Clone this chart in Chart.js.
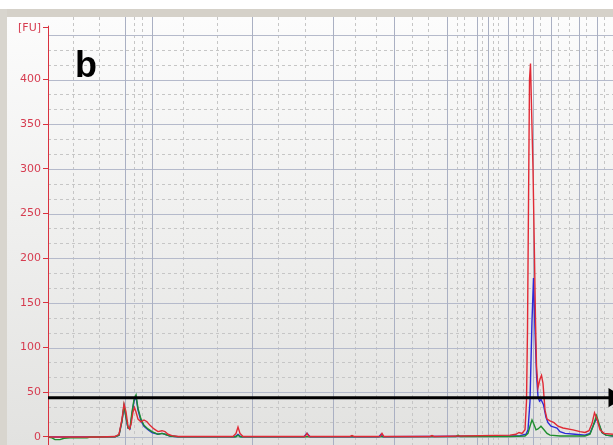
<!DOCTYPE html>
<html>
<head>
<meta charset="utf-8">
<script src="https://cdn.jsdelivr.net/npm/chart.js@4.4.1/dist/chart.umd.min.js"></script>
<style>
  html, body { margin: 0; padding: 0; background: #ffffff; }
  canvas { display: block; }
</style>
</head>
<body>
<canvas id="trace" width="613" height="445"></canvas>
<script>
// migration time (s) and fluorescence (FU) for each sample
const redTime = [17.0, 18.2, 22.2, 23.7, 24.1, 24.4, 24.6, 24.8, 25.0, 25.15, 25.3, 25.5, 25.65, 25.8, 26.0, 26.3, 26.6, 26.9, 27.2, 27.6, 28.0, 28.4, 28.7, 29.0, 29.4, 30.0,
  35.5, 35.8, 36.0, 36.2, 36.5, 42.7, 42.9, 43.1, 47.2, 47.4, 47.6, 50.2, 50.4, 50.6, 55.2, 55.4, 55.6,
  63.2, 63.8, 64.1, 64.4, 64.7, 64.85, 64.95, 65.05, 65.15, 65.25, 65.35, 65.5, 65.65, 65.75, 65.85, 66.0, 66.2, 66.35, 66.5, 66.7, 66.9, 67.2, 67.6, 68.0, 68.5, 69.5, 70.2, 70.7, 71.1, 71.4, 71.65, 71.9, 72.2, 72.6, 73.5];
const redFU = [0, 0, 0, 0.5, 3, 20, 37, 28, 12, 9, 14, 28, 33, 28, 20, 17, 19, 17, 13, 9, 6, 7, 6, 3, 1.5, 0.5,
  0.5, 4, 11, 4, 0.5, 0.5, 4, 0.5, 0.5, 1.5, 0.5, 0.5, 4, 0.5, 0.5, 1.5, 0.5,
  2, 3, 5, 4, 8, 40, 120, 260, 400, 418, 370, 300, 200, 130, 80, 55, 65, 69, 60, 30, 20, 18, 16, 12, 10, 8, 6, 5, 7, 15, 27, 20, 8, 4, 3];

const blueTime = [17.0, 23.7, 24.1, 24.4, 24.6, 24.8, 25.0, 25.2, 25.4, 25.6, 25.8, 26.0, 26.3, 26.6, 27.0, 27.4, 28.0, 28.4, 28.7, 29.2, 30.0,
  35.7, 36.0, 36.3, 42.6, 42.9, 43.2, 50.1, 50.3, 50.5,
  63.2, 64.2, 64.8, 65.0, 65.2, 65.4, 65.55, 65.7, 65.85, 66.0, 66.15, 66.3, 66.55, 66.8, 67.0, 67.3, 67.6, 67.9, 68.2, 68.7, 69.7, 70.7, 71.2, 71.5, 71.85, 72.1, 72.4, 72.8, 73.5];
const blueFU = [0, 0.3, 2, 18, 34, 22, 10, 9, 25, 40, 45, 30, 18, 12, 8, 5, 3, 4, 3, 1, 0.3,
  0.3, 3, 0.3, 0.3, 4, 0.3, 0.3, 3, 0.3,
  1, 1.5, 3, 8, 40, 130, 178, 120, 70, 45, 40, 42, 36, 22, 16, 12, 11, 10, 6, 4, 3, 2, 4, 12, 21, 14, 5, 2, 1];

const greenTime = [17.0, 17.4, 17.7, 18.2, 18.6, 19.2, 20.9, 21.2, 23.7, 24.1, 24.4, 24.6, 24.8, 25.0, 25.2, 25.4, 25.6, 25.8, 26.0, 26.3, 26.6, 27.0, 27.4, 28.0, 28.4, 28.7, 29.2, 30.0,
  35.8, 36.0, 36.2, 57.8, 58.0, 58.2,
  63.2, 64.7, 65.0, 65.2, 65.4, 65.6, 65.8, 66.0, 66.3, 66.6, 66.9, 67.2, 68.2, 70.7, 71.2, 71.5, 71.85, 72.1, 72.4, 72.8, 73.5];
const greenFU = [0, -1, -3, -3, -1.5, -1, -1, 0, 0.3, 2, 18, 35, 22, 10, 10, 28, 42, 47, 32, 20, 13, 9, 6, 3, 4, 3, 1, 0.3,
  0.3, 2, 0.3, 0.5, 2, 0.5,
  0.5, 1, 4, 12, 19, 14, 8, 9, 12, 8, 4, 2, 1, 1, 3, 12, 24, 15, 5, 2, 1];

const thresholdFU = 44;
const yTickValues = [0, 50, 100, 150, 200, 250, 300, 350, 400];
const unitTick = 458;
const unitLabel = '[FU]';

// size-standard grid positions (s)
const majorGridTimes = [24.7, 27.4, 37.4, 45.5, 51.6, 56.9, 59.9, 61.0, 63.0, 65.5, 67.3, 70.1, 71.9];
const minorGridTimes = [19.5, 22.1, 25.6, 26.4, 30.5, 33.9, 40.0, 42.7, 47.7, 49.8, 53.4, 55.0, 57.9, 58.6,
  60.4, 61.5, 62.0, 63.8, 64.5, 66.2, 68.0, 69.1, 70.8, 72.6];

const toPoints = (xs, ys) => xs.map((x, i) => ({ x: x, y: ys[i] }));

const axisRed = '#d9323f';

const panel = {
  id: 'panel',
  beforeDraw(chart) {
    const { ctx, width, height } = chart;
    ctx.save();
    ctx.fillStyle = '#ffffff';
    ctx.fillRect(0, 0, width, height);
    ctx.fillStyle = '#d5d1c9';
    ctx.fillRect(0, 9, width, 8);
    ctx.fillStyle = '#d8d5ce';
    ctx.fillRect(0, 9, 7, height - 9);
    const g = ctx.createLinearGradient(0, 17, 0, height);
    g.addColorStop(0, '#fcfcfc');
    g.addColorStop(1, '#e2e2e0');
    ctx.fillStyle = g;
    ctx.fillRect(7, 17, width - 7, height - 17);
    ctx.restore();
  },
  beforeDatasetsDraw(chart) {
    const { ctx, chartArea: a, scales } = chart;
    const xs = scales.x, ys = scales.y;
    ctx.save();
    ctx.lineWidth = 1;
    // dashed sub-grid
    ctx.setLineDash([3, 3]);
    ctx.strokeStyle = '#c6c6c6';
    for (let v = 0; v <= 450; v += 50 / 3) {
      if (Math.abs(v / 50 - Math.round(v / 50)) < 0.01) continue;
      const py = Math.round(ys.getPixelForValue(v)) + 0.5;
      ctx.beginPath(); ctx.moveTo(a.left, py); ctx.lineTo(a.right, py); ctx.stroke();
    }
    minorGridTimes.forEach((t) => {
      const px = Math.round(xs.getPixelForValue(t)) + 0.5;
      ctx.beginPath(); ctx.moveTo(px, a.top); ctx.lineTo(px, a.bottom); ctx.stroke();
    });
    // solid grid
    ctx.setLineDash([]);
    ctx.strokeStyle = '#b5bacb';
    for (let v = 0; v <= 450; v += 50) {
      const py = Math.round(ys.getPixelForValue(v)) + 0.5;
      ctx.beginPath(); ctx.moveTo(a.left, py); ctx.lineTo(a.right, py); ctx.stroke();
    }
    ctx.strokeStyle = '#aab0c3';
    majorGridTimes.forEach((t) => {
      const px = Math.round(xs.getPixelForValue(t)) + 0.5;
      ctx.beginPath(); ctx.moveTo(px, a.top); ctx.lineTo(px, a.bottom); ctx.stroke();
    });
    // y axis line
    ctx.strokeStyle = axisRed;
    ctx.beginPath();
    ctx.moveTo(a.left + 0.5, ys.getPixelForValue(unitTick) - 2);
    ctx.lineTo(a.left + 0.5, a.bottom);
    ctx.stroke();
    ctx.restore();
  },
  afterDatasetsDraw(chart) {
    const { ctx } = chart;
    ctx.save();
    ctx.fillStyle = '#000000';
    ctx.font = 'bold 36px "Liberation Sans", Arial, sans-serif';
    ctx.textBaseline = 'alphabetic';
    ctx.fillText('b', 75, 77);
    ctx.restore();
  }
};

new Chart(document.getElementById('trace'), {
  type: 'line',
  data: {
    datasets: [
      {
        // threshold line, arrow runs off the right edge
        data: [{ x: 17.0, y: thresholdFU }, { x: 73.6, y: thresholdFU }],
        borderColor: '#000000',
        backgroundColor: '#000000',
        borderWidth: 3,
        pointRadius: [0, 8],
        pointStyle: 'triangle',
        rotation: 90,
        clip: false,
        order: 0,
      },
      {
        data: toPoints(redTime, redFU),
        borderColor: '#e02a35',
        borderWidth: 1.4,
        pointRadius: 0,
        order: 1,
      },
      {
        data: toPoints(greenTime, greenFU),
        borderColor: '#1f8f2e',
        borderWidth: 1.4,
        pointRadius: 0,
        order: 2,
      },
      {
        data: toPoints(blueTime, blueFU),
        borderColor: '#2a2ad8',
        borderWidth: 1.4,
        pointRadius: 0,
        order: 3,
      },
    ],
  },
  options: {
    responsive: false,
    animation: false,
    layout: { autoPadding: false, padding: { top: 17, left: 0, right: 0, bottom: 0 } },
    elements: { line: { tension: 0 } },
    plugins: {
      legend: { display: false },
      tooltip: { enabled: false },
    },
    scales: {
      x: {
        type: 'linear',
        min: 17,
        max: 73.5,
        display: false,
      },
      y: {
        min: -9,
        max: 470,
        border: { display: false },
        grid: {
          drawOnChartArea: false,
          tickLength: 5,
          tickColor: axisRed,
        },
        afterBuildTicks: (scale) => {
          scale.ticks = yTickValues.concat([unitTick]).map((v) => ({ value: v }));
        },
        afterFit: (scale) => {
          scale.width = 48;
          scale.paddingTop = 0;
          scale.paddingBottom = 0;
        },
        ticks: {
          autoSkip: false,
          padding: 2,
          color: '#d63c50',
          font: { family: '"DejaVu Sans", Tahoma, sans-serif', size: 11 },
          callback: (v) => (v === unitTick ? unitLabel : v),
        },
      },
    },
  },
  plugins: [panel],
});
</script>
</body>
</html>
